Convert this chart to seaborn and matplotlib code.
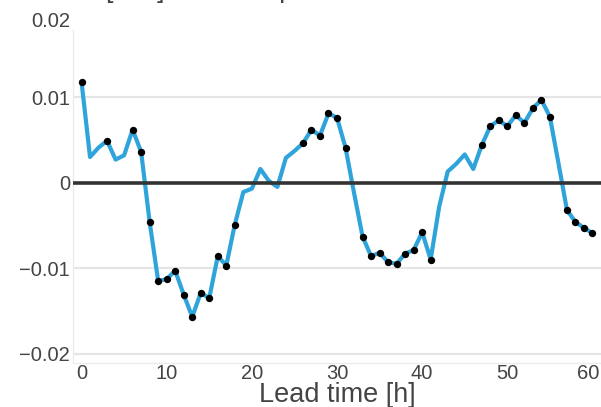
import numpy as np
import matplotlib
matplotlib.use("Agg")
import matplotlib.pyplot as plt
import matplotlib.transforms as mtransforms
import seaborn as sns
import pandas as pd

# lead time in hours, one value per hour
lead_hours = list(range(61))
bias = [
    0.0118, 0.0030, 0.0041, 0.0049, 0.0027, 0.0032, 0.0062, 0.0036, -0.0046, -0.0115,
    -0.0113, -0.0103, -0.0131, -0.0157, -0.0129, -0.0135, -0.0086, -0.0097, -0.0049, -0.0011,
    -0.0007, 0.0016, 0.0002, -0.0005, 0.0029, 0.0037, 0.0046, 0.0062, 0.0055, 0.0081,
    0.0076, 0.0041, -0.0012, -0.0063, -0.0086, -0.0082, -0.0093, -0.0095, -0.0083, -0.0079,
    -0.0058, -0.0090, -0.0028, 0.0013, 0.0022, 0.0033, 0.0016, 0.0044, 0.0066, 0.0073,
    0.0066, 0.0079, 0.0070, 0.0087, 0.0097, 0.0077, 0.0023, -0.0032, -0.0046, -0.0053,
    -0.0059,
]
# hours that carry a black dot
marked_hours = [0, 3, 6, 7, 8, 9, 10, 11, 12, 13, 14, 15, 16, 17, 18,
                26, 27, 28, 29, 30, 31, 33, 34, 35, 36, 37, 38, 39, 40, 41,
                47, 48, 49, 50, 51, 52, 53, 54, 55, 57, 58, 59, 60]
y_ticks = [-0.02, -0.01, 0, 0.01, 0.02]
y_tick_labels = ["\u22120.02", "\u22120.01", "0", "0.01", "0.02"]
x_ticks = [0, 10, 20, 30, 40, 50, 60]


def shift_label(label, fig, dx_px, dy_px):
    label.set_transform(label.get_transform()
                        + mtransforms.ScaledTranslation(dx_px / 100, dy_px / 100, fig.dpi_scale_trans))


def main():
    sns.set_style("white")
    plt.rcParams["font.family"] = ["Liberation Sans", "DejaVu Sans"]

    df = pd.DataFrame({"lead": lead_hours, "bias": bias})
    dots = df[df["lead"].isin(marked_hours)]

    fig = plt.figure(figsize=(6.01, 4.07), dpi=100)
    ax = fig.add_axes([73 / 601, 44 / 407, 528 / 601, 363 / 407])

    sns.lineplot(data=df, x="lead", y="bias", color="#2fa4db", linewidth=3, ax=ax, zorder=3)
    sns.scatterplot(data=dots, x="lead", y="bias", color="black", s=28, linewidth=0, ax=ax, zorder=4)
    ax.axhline(0, color="#333333", linewidth=2.6, zorder=5)

    ax.set_xlim(-1, 61)
    ax.set_ylim(-0.0211, 0.02137)
    ax.set_xticks(x_ticks)
    ax.set_yticks(y_ticks)
    ax.set_yticklabels(y_tick_labels)
    ax.tick_params(axis="both", length=0, labelsize=14.5, labelcolor="#444444")
    ax.tick_params(axis="y", pad=2)
    ax.tick_params(axis="x", pad=1)

    for val in [-0.02, -0.01, 0.01]:
        ax.axhline(val, color="#e5e5e5", linewidth=1.6, zorder=1)

    # the end labels sit a bit inside in the original
    shift_label(ax.get_yticklabels()[-1], fig, 0, -8)
    shift_label(ax.get_xticklabels()[-1], fig, -4, 0)

    for side in ["top", "right"]:
        ax.spines[side].set_visible(False)
    ax.spines["left"].set_color("#ebebeb")
    ax.spines["left"].set_linewidth(1)
    ax.spines["left"].set_bounds(-0.0211, 0.0179)
    ax.spines["bottom"].set_color("#ebebeb")
    ax.spines["bottom"].set_linewidth(1)

    ax.set_xlabel("Lead time [h]", fontsize=19.5, color="#444444", labelpad=-1)
    ax.set_ylabel("")

    # title is mostly cut off at the top edge
    fig.text(17 / 601, 1 + 2.5 / 407, "Bias in [m/s] of wind speed", fontsize=19.5,
             color="#444444", ha="left", va="baseline")

    fig.savefig("out.png", dpi=100)


if __name__ == "__main__":
    main()
